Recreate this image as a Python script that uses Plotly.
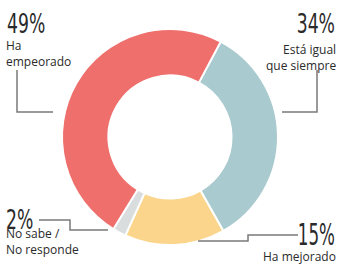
import plotly.graph_objects as go

labels = ["Está igual que siempre", "Ha mejorado", "No sabe / No responde", "Ha empeorado"]
values = [34, 15, 2, 49]
colors = ["#A9CACE", "#FAD58B", "#D9DDDD", "#EE6F6C"]
pct_labels = ["34%", "15%", "2%", "49%"]

W, H = 339, 264

def px(x, y):
    return x / W, 1 - y / H

fig = go.Figure(go.Pie(
    labels=labels, values=values, sort=False, direction="clockwise", rotation=28,
    hole=0.57, marker=dict(colors=colors, line=dict(color="white", width=2)),
    textinfo="none", hoverinfo="none", showlegend=False,
    domain=dict(x=[62 / W, 278 / W], y=[1 - 245 / H, 1 - 29 / H]),
))

big = dict(family="Liberation Sans Narrow, DejaVu Sans Condensed, Roboto", size=27, color="#2a2a2a",
           weight=300)
big2 = dict(big, size=30, weight=400)
small = dict(family="Open Sans, Lato, sans-serif", size=12, color="#2a2a2a")

ann = []
def add(text, x, y, xanchor, yanchor, font, align="left"):
    xx, yy = px(x, y)
    ann.append(dict(text=text, x=xx, y=yy, xref="paper", yref="paper", xanchor=xanchor, yanchor=yanchor,
                    showarrow=False, font=font, align=align))

add(pct_labels[3], 5, 5.5, "left", "top", big)
add("Ha<br>empeorado", 4, 35, "left", "top", small)
add(pct_labels[2], 4, 201.5, "left", "top", big)
add("No sabe /<br>No responde", 4, 223, "left", "top", small)
add(pct_labels[0], 337, 5.5, "right", "top", big)
add("Está igual<br>que siempre", 338, 39, "right", "top", small, "right")
add(pct_labels[1], 337, 215, "right", "top", big2)
add("Ha mejorado", 338, 246, "right", "top", small, "right")

def path(points):
    s = ""
    for i, (x, y) in enumerate(points):
        xx, yy = px(x, y)
        s += ("M" if i == 0 else "L") + f"{xx},{yy} "
    return s

line = dict(color="#7a7a7a", width=1.5)
shapes = [
    dict(type="path", xref="paper", yref="paper", path=path([(17, 70), (17, 112), (53, 112)]), line=line),
    dict(type="path", xref="paper", yref="paper", path=path([(317, 70), (317, 112), (282, 112)]), line=line),
    dict(type="path", xref="paper", yref="paper", path=path([(39, 220), (70, 220), (70, 230), (108, 230)]), line=line),
    dict(type="path", xref="paper", yref="paper", path=path([(198, 241), (248, 241), (248, 235), (298, 235)]), line=line),
]

fig.update_layout(width=W, height=H, margin=dict(l=0, r=0, t=0, b=0),
                  paper_bgcolor="white", plot_bgcolor="white",
                  annotations=ann, shapes=shapes)

post = """
document.body.style.margin='0';document.body.style.overflow='hidden';
function condense(){
  var els = document.querySelectorAll('text.annotation-text');
  els.forEach(function(el){
    if (el.textContent.indexOf('%') < 0) return;
    el.removeAttribute('transform');
    var b = el.getBBox();
    var r = el.getBoundingClientRect();
    var ax = (r.left < 150) ? b.x : b.x + b.width;
    var s = (el.textContent.indexOf('15') === 0) ? 0.62 : 0.71;
    el.setAttribute('transform', 'translate(' + ax + ',0) scale(' + s + ',1) translate(' + (-ax) + ',0)');
  });
}
condense();
setTimeout(condense, 0);
"""
fig.write_html("out.html", config={"displayModeBar": False}, post_script=post)
